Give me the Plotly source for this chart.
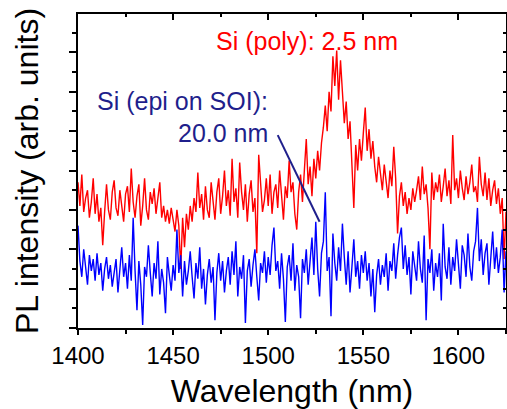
import plotly.graph_objects as go

# Wavelength grid (nm), 1 nm steps from 1400 to 1625
wavelength = list(range(1400, 1626))

# Si (poly): 2.5 nm  (red), arbitrary units
red_pl = [
    7.4, 6.2, 7.8, 5.9, 6.6, 7.0, 5.6, 6.4, 7.6, 5.8,
    6.8, 5.4, 6.1, 4.2, 5.9, 7.3, 6.0, 5.5, 6.9, 7.5,
    6.1, 5.7, 7.0, 6.3, 5.4, 6.8, 7.2, 5.9, 8.1, 6.4,
    5.6, 6.7, 7.3, 5.2, 6.2, 7.6, 6.0, 5.5, 6.9, 6.3,
    7.1, 5.8, 6.5, 7.4, 5.6, 6.2, 5.4, 6.0, 5.3, 6.1,
    5.5, 4.9, 6.0, 5.2, 3.0, 5.6, 4.1, 5.8, 5.0, 6.2,
    5.4, 6.6, 5.9, 7.9, 6.1, 6.8, 5.5, 7.2, 6.0, 5.6,
    7.4, 6.3, 5.5, 6.9, 7.6, 5.8, 6.7, 8.0, 6.2, 7.0,
    5.7, 8.6, 6.4, 7.1, 5.6, 8.4, 6.9, 6.0, 7.3, 5.4,
    6.8, 7.5, 5.9, 6.6, 3.8, 8.8, 7.0, 5.9, 6.5, 7.6,
    6.2, 7.8, 5.8, 6.9, 7.3, 6.1, 8.0, 6.7, 5.5, 7.2,
    6.6, 8.5, 6.9, 7.4, 5.8, 5.0, 6.9, 7.8, 6.4, 8.0,
    9.6, 7.3, 8.2, 6.7, 8.6, 7.6, 9.0, 8.0, 9.4, 10.2,
    11.3, 10.0, 12.0, 11.0, 13.8, 12.3, 14.1, 11.6, 13.6, 12.0,
    10.4, 11.5, 9.6, 10.5, 8.4, 6.1, 9.3, 8.0, 9.6, 8.5,
    9.9, 11.2, 9.0, 10.1, 8.6, 9.5, 8.2, 7.4, 8.7, 7.8,
    7.0, 8.3, 7.5, 6.6, 8.0, 7.2, 9.2, 7.6, 4.8, 6.7,
    7.4, 6.2, 6.9, 5.8, 6.6, 6.0, 7.1, 6.4, 7.0, 7.7,
    6.5, 8.2, 6.8, 7.3, 6.1, 4.0, 7.9, 6.5, 7.4, 6.9,
    7.8, 6.4, 7.2, 8.1, 6.7, 7.5, 6.3, 9.8, 7.0, 7.6,
    6.6, 8.0, 7.1, 6.5, 7.7, 6.8, 7.4, 8.3, 6.9, 7.2,
    6.4, 8.7, 7.3, 6.7, 7.9, 6.5, 7.6, 6.2, 7.0, 7.5,
    6.3, 7.1, 5.8, 6.6, 3.5, 5.9,
]

# Si (epi on SOI): 20.0 nm  (blue), arbitrary units
blue_pl = [
    5.2, 3.4, 2.6, 4.0, 3.1, 2.2, 3.7, 2.9, 3.5, 2.4,
    3.8, 2.7, 3.3, 1.9, 3.0, 3.6, 2.5, 3.2, 2.1, 2.8,
    3.5, 1.8, 2.9, 4.1, 2.6, 3.3, 2.0, 3.7, 2.4, 5.6,
    2.9, 0.9, 3.4, 2.2, 0.15, 3.1, 2.6, 4.2, 2.8, 1.6,
    3.3, 2.5, 4.4, 1.7, 3.0, 2.3, 0.75, 3.6, 2.7, 1.9,
    3.2, 2.4, 5.0, 2.8, 3.7, 1.6, 3.4, 2.2, 2.9, 3.9,
    2.6, 1.5, 3.3, 2.5, 4.1, 2.0, 3.0, 1.2, 2.7, 3.5,
    2.3, 3.1, 0.4, 2.8, 3.8, 2.4, 3.4, 1.8, 2.9, 3.6,
    2.2, 3.9, 2.7, 4.4, 1.6, 3.1, 2.5, 3.7, 0.25, 2.9,
    3.5, 2.1, 3.2, 4.0, 2.6, 1.4, 3.3, 2.8, 3.9, 2.3,
    3.6, 2.7, 4.2, 5.1, 2.9, 3.4, 2.0, 3.8, 2.5, 0.3,
    3.1, 3.7, 2.4, 4.3, 1.9, 3.2, 2.6, 0.5, 3.5, 2.8,
    4.0, 2.2, 3.4, 4.6, 2.7, 5.4, 3.0, 1.6, 3.8, 4.4,
    6.9, 2.9, 3.6, 0.6, 4.8, 3.3, 2.4, 4.1, 2.9, 5.3,
    3.6, 2.2, 3.9, 1.8, 3.1, 4.5, 2.6, 3.4, 2.0, 3.7,
    2.8, 3.9, 2.4, 3.3, 1.6, 3.0, 0.8, 2.7, 3.5, 2.2,
    3.2, 2.6, 3.8, 1.9, 3.4, 2.9, 4.3, 2.5, 3.7, 4.6,
    5.1, 3.0, 4.2, 2.7, 3.6, 1.7, 3.9, 3.2, 2.4, 4.4,
    3.0, 2.3, 4.7, 0.4, 3.5, 2.8, 4.0, 1.9, 3.3, 2.6,
    3.8, 1.4, 5.3, 3.1, 2.5, 4.1, 2.2, 3.6, 2.9, 4.5,
    3.3, 2.0, 4.2, 3.7, 2.6, 4.8, 3.1, 2.4, 3.9, 4.4,
    6.1, 3.4, 4.5, 2.7, 3.8, 4.3, 2.2, 3.5, 4.9, 3.0,
    4.1, 2.8, 3.6, 5.0, 1.8, 3.9,
]

x_ticks = [1400, 1450, 1500, 1550, 1600]
x_tick_labels = ["1400", "1450", "1500", "1550", "1600"]

x_range = [1400, 1625]
y_range = [0, 15.95]

font_family = "Liberation Sans, Arial, sans-serif"
navy = "#1f1f8c"

fig = go.Figure()
fig.add_trace(go.Scatter(x=wavelength, y=red_pl, mode="lines",
                         line=dict(color="#ff0000", width=1.4),
                         name="Si (poly): 2.5 nm", showlegend=False))
fig.add_trace(go.Scatter(x=wavelength, y=blue_pl, mode="lines",
                         line=dict(color="#0000ff", width=1.4),
                         name="Si (epi on SOI): 20.0 nm", showlegend=False))
# invisible trace so that the mirrored (top/right) axes are drawn
fig.add_trace(go.Scatter(x=wavelength, y=red_pl, mode="lines",
                         line=dict(color="rgba(0,0,0,0)", width=0),
                         xaxis="x2", yaxis="y2", hoverinfo="skip",
                         showlegend=False))

fig.update_layout(
    width=507, height=409,
    margin=dict(l=78, r=1, t=14, b=81, autoexpand=False),
    paper_bgcolor="white", plot_bgcolor="white",
    xaxis=dict(
        range=x_range, showgrid=False, zeroline=False, automargin=False,
        showline=True, linecolor="black", linewidth=2,
        tickmode="array", tickvals=x_ticks, ticktext=x_tick_labels,
        ticks="outside", ticklen=5, tickwidth=2, tickcolor="black",
        minor=dict(dtick=25, tick0=1400, ticks="outside", ticklen=4,
                   tickwidth=2, tickcolor="black", showgrid=False),
        tickfont=dict(family=font_family, size=24, color="black"),
        title=dict(text="Wavelength (nm)", standoff=14,
                   font=dict(family=font_family, size=32, color="black")),
    ),
    yaxis=dict(
        range=y_range, showgrid=False, zeroline=False, automargin=False,
        showline=True, linecolor="black", linewidth=2,
        dtick=2, tick0=0, showticklabels=False,
        ticks="outside", ticklen=7, tickwidth=2, tickcolor="black",
        minor=dict(dtick=1, tick0=0, ticks="outside", ticklen=4,
                   tickwidth=2, tickcolor="black", showgrid=False),
        title=dict(text="PL intensity (arb. units)", standoff=21,
                   font=dict(family=font_family, size=32, color="black")),
    ),
    xaxis2=dict(
        range=x_range, overlaying="x", side="top", anchor="y", automargin=False,
        showgrid=False, zeroline=False, showline=True,
        linecolor="black", linewidth=2, showticklabels=False,
        tickmode="array", tickvals=x_ticks,
        ticks="inside", ticklen=6, tickwidth=2, tickcolor="black",
        minor=dict(dtick=25, tick0=1400, ticks="inside", ticklen=3,
                   tickwidth=2, tickcolor="black", showgrid=False),
    ),
    yaxis2=dict(
        range=y_range, overlaying="y", side="right", anchor="x", automargin=False,
        showgrid=False, zeroline=False, showline=True,
        linecolor="black", linewidth=2, showticklabels=False,
        dtick=1, tick0=0,
        ticks="inside", ticklen=3, tickwidth=2, tickcolor="black",
    ),
    annotations=[
        dict(text="Si (poly): 2.5 nm", x=1520.2, y=14.6, xref="x", yref="y",
             xanchor="center", yanchor="middle", showarrow=False,
             font=dict(family=font_family, size=25, color="#ff0000")),
        dict(text="Si (epi on SOI):", x=1501, y=11.55, xref="x", yref="y",
             xanchor="right", yanchor="middle", showarrow=False,
             font=dict(family=font_family, size=25, color=navy)),
        dict(text="20.0 nm", x=1501, y=9.9, xref="x", yref="y",
             xanchor="right", yanchor="middle", showarrow=False,
             font=dict(family=font_family, size=25, color=navy)),
    ],
    shapes=[
        dict(type="line", xref="x", yref="y", x0=1505, y0=9.8, x1=1527, y1=5.4,
             line=dict(color=navy, width=2)),
    ],
)

# remove the browser's default 8px body margin so the figure sits at (0, 0)
fig.write_html("out.html",
               config={"displayModeBar": False},
               post_script="document.body.style.margin='0';document.body.style.padding='0';")
